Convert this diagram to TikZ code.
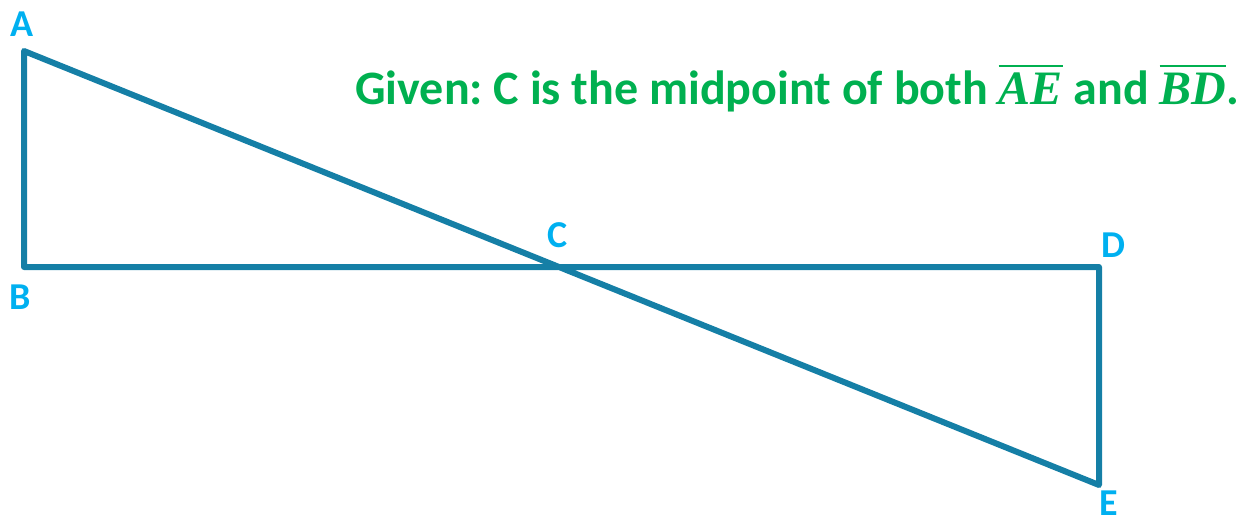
\documentclass[tikz,border=0pt]{standalone}
\usepackage{unicode-math}
\setmainfont{Carlito}
\newfontfamily\segfont{Liberation Serif}
\newcommand{\segname}[1]{$\overline{\hbox{\segfont\itshape #1}}$}
\usepackage{tikz}
\usetikzlibrary{positioning}

\definecolor{segblue}{RGB}{21,127,166}
\definecolor{ptcyan}{RGB}{0,176,240}
\definecolor{givengreen}{RGB}{0,176,80}

\begin{document}
\frenchspacing
\begin{tikzpicture}[
    x=1pt, y=-1pt,
    seg/.style={draw=segblue, line width=6pt, line join=round},
    ptlabel/.style={text=ptcyan, font=\fontsize{38}{40}\selectfont\bfseries, inner sep=0pt},
    given/.style={text=givengreen, font=\fontsize{48}{54}\selectfont\bfseries, inner sep=0pt, anchor=base west}
]
\useasboundingbox (0,0) rectangle (1243,523);

\coordinate (A) at (24,51);
\coordinate (B) at (24,267);
\coordinate (D) at (1099,267);
\coordinate (E) at (1099,485);
\coordinate (C) at (561,267);

\draw[seg] (A) -- (B) -- (D) -- (E) -- cycle;

\node[ptlabel] (labA) at (22,24) {A};
\node[ptlabel] (labB) at (20,297) {B};
\node[ptlabel] (labC) at (558,235) {C};
\node[ptlabel] (labD) at (1113,245) {D};
\node[ptlabel] (labE) at (1109,503) {E};

\node[given] (givenText) at (355,104) {Given: C is the midpoint of both \segname{AE} and \segname{BD}.};

\end{tikzpicture}
\end{document}
